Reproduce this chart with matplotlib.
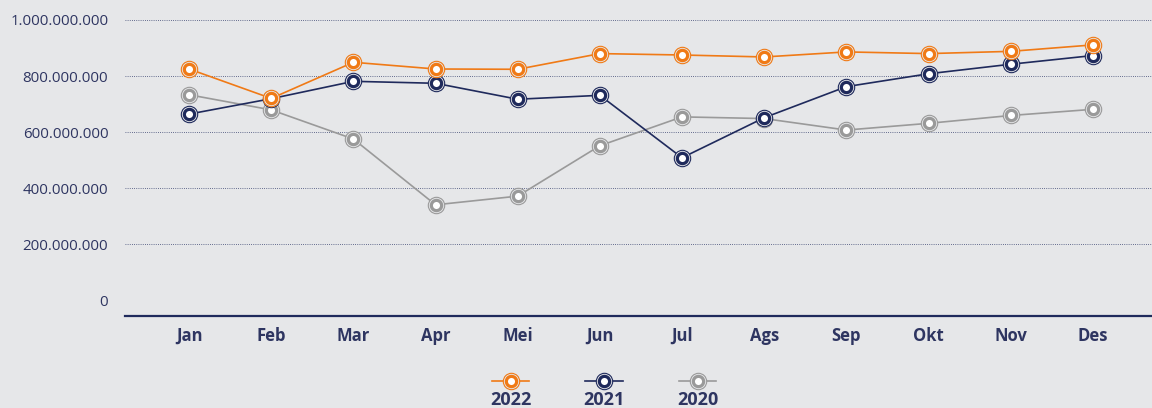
import matplotlib
matplotlib.use("Agg")
import matplotlib.pyplot as plt
from matplotlib.ticker import FuncFormatter

###################################
# data
bulan = ["Jan", "Feb", "Mar", "Apr", "Mei", "Jun", "Jul", "Ags", "Sep", "Okt", "Nov", "Des"]
tahun = ["2022", "2021", "2020"]
nilai_2022 = [825e6, 720e6, 849e6, 825e6, 824e6, 880e6, 875e6, 868e6, 886e6, 880e6, 888e6, 911e6]
nilai_2021 = [664e6, 719e6, 781e6, 774e6, 717e6, 731e6, 508e6, 651e6, 762e6, 808e6, 842e6, 873e6]
nilai_2020 = [733e6, 679e6, 575e6, 340e6, 371e6, 551e6, 654e6, 648e6, 607e6, 631e6, 659e6, 681e6]
y_ticks = [0, 200e6, 400e6, 600e6, 800e6, 1000e6]
###################################

# cores
bg = "#E6E7E9"
navy = "#1F2A5C"
text_col = "#2E3561"
warna = {"2022": "#F07A16", "2021": "#1F2A5C", "2020": "#9A9A9A"}
nilai = {"2022": nilai_2022, "2021": nilai_2021, "2020": nilai_2020}

plt.rcParams["font.family"] = ["Open Sans", "DejaVu Sans"]

fig = plt.figure(figsize=(11.52, 4.08), dpi=100, facecolor=bg)
ax = fig.add_axes([0.1085, 0.2255, 0.8915, 0.7255])
ax.set_facecolor(bg)

x = list(range(len(bulan)))


def draw_markers(axis, xs, ys, c, z):
    # anel externo fino + anel interno grosso com centro branco
    axis.plot(xs, ys, ls="none", marker="o", ms=11.8, mfc=bg, mec=c,
              mew=0.8, zorder=z + 0.1, clip_on=False)
    axis.plot(xs, ys, ls="none", marker="o", ms=7.4, mfc="white", mec=c,
              mew=2.3, zorder=z + 0.2, clip_on=False)


# ordem de desenho: 2020 embaixo, 2022 em cima
for i, th in enumerate(reversed(tahun)):
    ax.plot(x, nilai[th], color=warna[th], lw=1.2, zorder=3 + i, clip_on=False)
    draw_markers(ax, x, nilai[th], warna[th], 3 + i)

ax.set_xlim(-0.78, 11.72)
ax.set_ylim(-57e6, 1000e6)
ax.set_yticks(y_ticks)
ax.yaxis.set_major_formatter(FuncFormatter(lambda v, p: f"{int(v):,}".replace(",", ".")))
ax.set_xticks(x)
ax.set_xticklabels(bulan, fontweight="bold")

ax.tick_params(axis="y", length=0, pad=12, labelsize=10.8, labelcolor=text_col)
ax.tick_params(axis="x", length=0, pad=8, labelsize=12, labelcolor=text_col)

ax.yaxis.grid(True, color="#3A4470", lw=0.6, linestyle=(0, (1, 1.6)))
ax.yaxis.get_gridlines()[0].set_visible(False)
ax.set_axisbelow(True)

for s in ["top", "right", "left"]:
    ax.spines[s].set_visible(False)
ax.spines["bottom"].set_color(navy)
ax.spines["bottom"].set_linewidth(1.6)

# legenda: marcador em cima, ano embaixo
lax = fig.add_axes([0.4026, 0.0, 0.2435, 0.13])
lax.set_xlim(0, 3)
lax.set_ylim(0, 1)
lax.axis("off")
for i, th in enumerate(tahun):
    cx = i + 0.5
    lax.plot([cx - 0.2, cx + 0.2], [0.51, 0.51], color=warna[th], lw=1.2, zorder=3)
    draw_markers(lax, [cx], [0.51], warna[th], 3)
    lax.text(cx, 0.15, th, ha="center", va="center", fontsize=13,
             fontweight="bold", color=text_col)

fig.savefig("out.png", dpi=100, facecolor=bg)
